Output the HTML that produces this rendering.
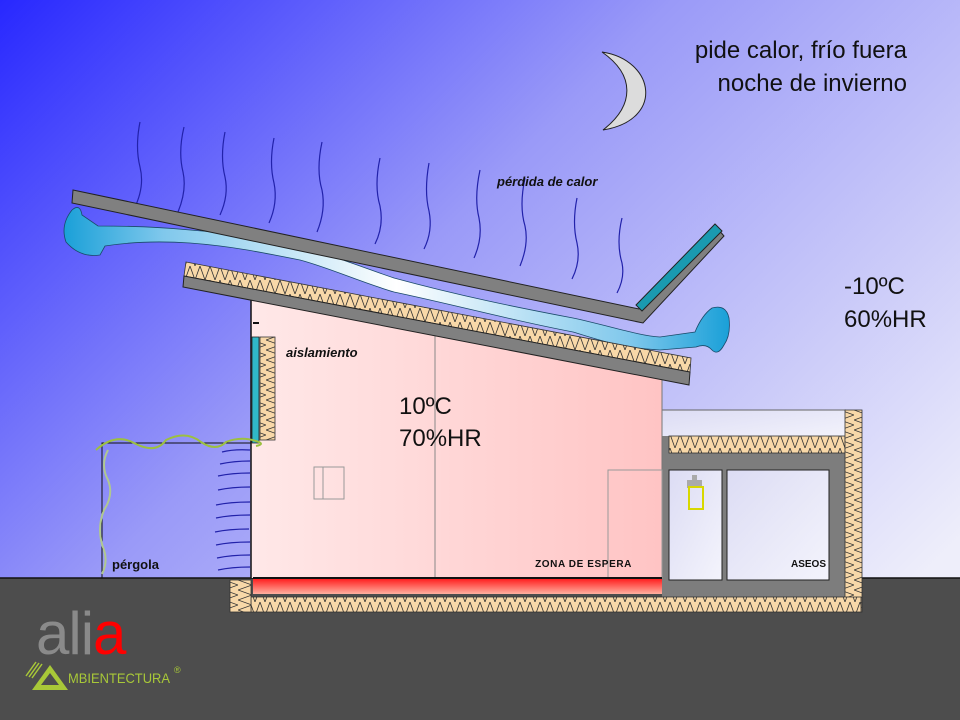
<!DOCTYPE html>
<html><head><meta charset="utf-8"><style>
html,body{margin:0;padding:0;width:960px;height:720px;overflow:hidden}
svg{display:block}
text{font-family:"Liberation Sans","DejaVu Sans",sans-serif}
</style></head><body>
<svg width="960" height="720" viewBox="0 0 960 720" xmlns="http://www.w3.org/2000/svg">
<defs>
<linearGradient id="sky" x1="0" y1="0" x2="1" y2="0.75">
<stop offset="0" stop-color="#2828ff"/>
<stop offset="0.45" stop-color="#9a9af8"/>
<stop offset="1" stop-color="#eeeefa"/>
</linearGradient>
<linearGradient id="room" x1="0" y1="0" x2="1" y2="0">
<stop offset="0" stop-color="#ffe8e8"/><stop offset="1" stop-color="#ffc4c4"/>
</linearGradient>
<linearGradient id="heat" x1="0" y1="0" x2="0" y2="1">
<stop offset="0" stop-color="#ff2020"/><stop offset="1" stop-color="#ffb0a0"/>
</linearGradient>
<linearGradient id="air" x1="0" y1="0" x2="1" y2="0">
<stop offset="0" stop-color="#1aa0d8"/><stop offset="0.15" stop-color="#80c8ec"/>
<stop offset="0.5" stop-color="#ffffff"/><stop offset="0.85" stop-color="#80c8ec"/><stop offset="1" stop-color="#1aa0d8"/>
</linearGradient>
<linearGradient id="annex" x1="0" y1="0" x2="1" y2="1">
<stop offset="0" stop-color="#dcdcf4"/><stop offset="1" stop-color="#f4f4fc"/>
</linearGradient>
<pattern id="hatch" width="10" height="14" patternUnits="userSpaceOnUse">
<rect width="10" height="14" fill="#f8d8a8"/>
<path d="M0 0 L5 14 L10 0" fill="none" stroke="#333" stroke-width="0.8"/>
</pattern>
<pattern id="hatchV" width="14" height="10" patternUnits="userSpaceOnUse">
<rect width="14" height="10" fill="#f8d8a8"/>
<path d="M0 0 L14 5 L0 10" fill="none" stroke="#333" stroke-width="0.8"/>
</pattern>
</defs>
<rect width="960" height="720" fill="url(#sky)"/>
<rect x="0" y="578" width="960" height="142" fill="#4d4d4d"/>
<line x1="0" y1="578" x2="960" y2="578" stroke="#111" stroke-width="1.5"/>

<g fill="none" stroke="#2222aa" stroke-width="1.2">
<path d="M140 122 q-5 25 0 45 q5 20 -6 42"/>
<path d="M184 127 q-6 25 -1 45 q4 18 -5 40"/>
<path d="M225 132 q-5 25 0 45 q4 18 -5 38"/>
<path d="M274 138 q-5 25 0 45 q4 20 -5 40"/>
<path d="M322 142 q-6 28 0 48 q4 20 -5 42"/>
<path d="M380 158 q-6 28 0 48 q4 20 -5 38"/>
<path d="M429 163 q-5 28 0 48 q4 20 -5 38"/>
<path d="M480 170 q-6 28 -1 48 q4 20 -5 40"/>
<path d="M525 178 q-6 28 0 48 q4 18 -5 40"/>
<path d="M577 198 q-5 25 0 45 q4 18 -5 36"/>
<path d="M622 218 q-6 25 0 45 q3 15 -5 30"/>
</g>
<text x="497" y="186" font-size="13" font-weight="bold" font-style="italic" fill="#111">pérdida de calor</text>

<path d="M602 52 C655 60 665 120 603 130 C635 105 635 75 602 52 Z" fill="#dcdcdc" stroke="#222" stroke-width="1"/>
<text x="907" y="58" font-size="24" text-anchor="end" fill="#111">pide calor, frío fuera</text>
<text x="907" y="91" font-size="24" text-anchor="end" fill="#111">noche de invierno</text>
<text x="844" y="294" font-size="24" fill="#111">-10ºC</text>
<text x="844" y="327" font-size="24" fill="#111">60%HR</text>

<rect x="662" y="410" width="184" height="30" fill="url(#annex)"/>
<line x1="662" y1="410" x2="846" y2="410" stroke="#666" stroke-width="1"/>
<rect x="662" y="436" width="184" height="176" fill="#7d7d7d"/>
<rect x="669" y="436" width="176" height="17" fill="url(#hatch)" stroke="#333" stroke-width="0.8"/>
<rect x="845" y="410" width="17" height="202" fill="url(#hatchV)" stroke="#333" stroke-width="0.8"/>
<rect x="669" y="470" width="53" height="110" fill="url(#annex)" stroke="#222" stroke-width="1"/>
<rect x="727" y="470" width="102" height="110" fill="url(#annex)" stroke="#222" stroke-width="1"/>
<text x="826" y="567" font-size="10" font-weight="bold" text-anchor="end" fill="#111">ASEOS</text>
<path d="M692 475 h5 v5 h5 v8 h-15 v-8 h5 z" fill="#aaa"/>
<rect x="689" y="487" width="14" height="22" fill="none" stroke="#d8d800" stroke-width="2"/>

<polygon points="251,298 662,378 662,578 251,578" fill="url(#room)"/>
<line x1="251" y1="298" x2="251" y2="578" stroke="#111" stroke-width="1.5"/>
<line x1="662" y1="378" x2="662" y2="578" stroke="#777" stroke-width="1"/>
<line x1="435" y1="336" x2="435" y2="578" stroke="#888" stroke-width="1"/>
<rect x="608" y="470" width="54" height="108" fill="none" stroke="#999" stroke-width="1"/>
<rect x="314" y="467" width="30" height="32" fill="none" stroke="#999" stroke-width="1"/>
<line x1="323" y1="467" x2="323" y2="499" stroke="#999" stroke-width="1"/>
<rect x="253" y="322" width="6" height="2" fill="#111"/>
<rect x="252" y="337" width="7" height="106" fill="#30b8c8" stroke="#222" stroke-width="0.8"/>
<rect x="260" y="337" width="15" height="103" fill="url(#hatchV)" stroke="#333" stroke-width="0.8"/>
<text x="286" y="357" font-size="13" font-weight="bold" font-style="italic" fill="#111">aislamiento</text>
<text x="399" y="414" font-size="24" fill="#111">10ºC</text>
<text x="399" y="446" font-size="24" fill="#111">70%HR</text>
<text x="632" y="567" font-size="10" font-weight="bold" text-anchor="end" fill="#111" letter-spacing="0.6">ZONA  DE  ESPERA</text>

<rect x="253" y="579" width="409" height="15" fill="url(#heat)"/>
<line x1="253" y1="578" x2="662" y2="578" stroke="#111" stroke-width="2"/>
<rect x="251" y="597" width="610" height="15" fill="url(#hatch)" stroke="#333" stroke-width="0.8"/>
<rect x="230" y="580" width="21" height="32" fill="url(#hatchV)" stroke="#333" stroke-width="0.8"/>

<rect x="102" y="443" width="149" height="135" fill="none" stroke="#111" stroke-width="1"/>
<path d="M96 450 q20 -18 40 -6 q20 10 30 -4 q20 -10 35 2 q15 10 25 0 q15 -6 30 -1 q10 3 0 5" fill="none" stroke="#9cc040" stroke-width="2"/>
<path d="M108 450 q-8 15 0 30 q6 15 -4 30 q-8 20 0 40 q4 12 -2 24" fill="none" stroke="#b0c890" stroke-width="2"/>
<text x="112" y="569" font-size="13" font-weight="bold" fill="#111">pérgola</text>
<g stroke="#2222aa" stroke-width="1.2" fill="none">
<path d="M222 452 q12 -3 28 -2"/><path d="M220 464 q14 -3 30 -3"/><path d="M218 476 q14 -3 32 -3"/>
<path d="M218 490 q14 -3 32 -3"/><path d="M216 505 q14 -3 34 -3"/><path d="M216 518 q14 -3 34 -3"/>
<path d="M215 532 q14 -3 34 -3"/><path d="M216 545 q14 -3 34 -3"/><path d="M217 558 q14 -3 33 -3"/>
<path d="M218 570 q14 -3 32 -3"/>
</g>

<path d="M98 226 C140 226 170 228 190 230 C240 234 280 240 300 246 C340 258 370 270 394 278 C460 296 520 308 573 318 C610 326 640 336 660 337 L695 332 Q702 315 712 308 Q726 304 729 318 Q731 335 724 345 Q718 356 712 350 Q706 343 696 347 L660 350 C620 348 600 340 573 332 C510 320 460 306 394 292 C360 282 330 268 300 260 C260 252 230 246 190 243 C160 241 130 242 105 246 L100 255 Q80 258 66 242 Q60 225 72 210 Q80 203 82 215 Z" fill="url(#air)" stroke="#1a4a6a" stroke-width="0.8"/>

<polygon points="73,190 639,309 718,229 724,236 643,323 72,203" fill="#808080" stroke="#222" stroke-width="1"/>
<polygon points="636,305 715,224 722,231 642,311" fill="#1a9ab0" stroke="#222" stroke-width="1"/>

<polygon points="186,262 691,358 690,372 184,276" fill="url(#hatch)" stroke="#333" stroke-width="0.8"/>
<polygon points="184,276 690,372 689,385 183,287" fill="#808080" stroke="#222" stroke-width="1"/>

<text x="36" y="654" font-size="60" fill="#8a8a8a" letter-spacing="-1">ali<tspan fill="#ff0000">a</tspan></text>
<polygon points="32,690 50,665 68,690" fill="#a8c838"/>
<polygon points="41,685 50,673 59,685" fill="#4d4d4d"/>
<g stroke="#a8c838" stroke-width="1.5"><line x1="26" y1="676" x2="36" y2="662"/><line x1="29" y1="677" x2="39" y2="663"/><line x1="32" y1="678" x2="42" y2="664"/></g>
<text x="68" y="683" font-size="14" fill="#a8c838" textLength="102" lengthAdjust="spacingAndGlyphs">MBIENTECTURA</text>
<text x="174" y="673" font-size="9" fill="#a8c838">®</text>
</svg>
</body></html>
